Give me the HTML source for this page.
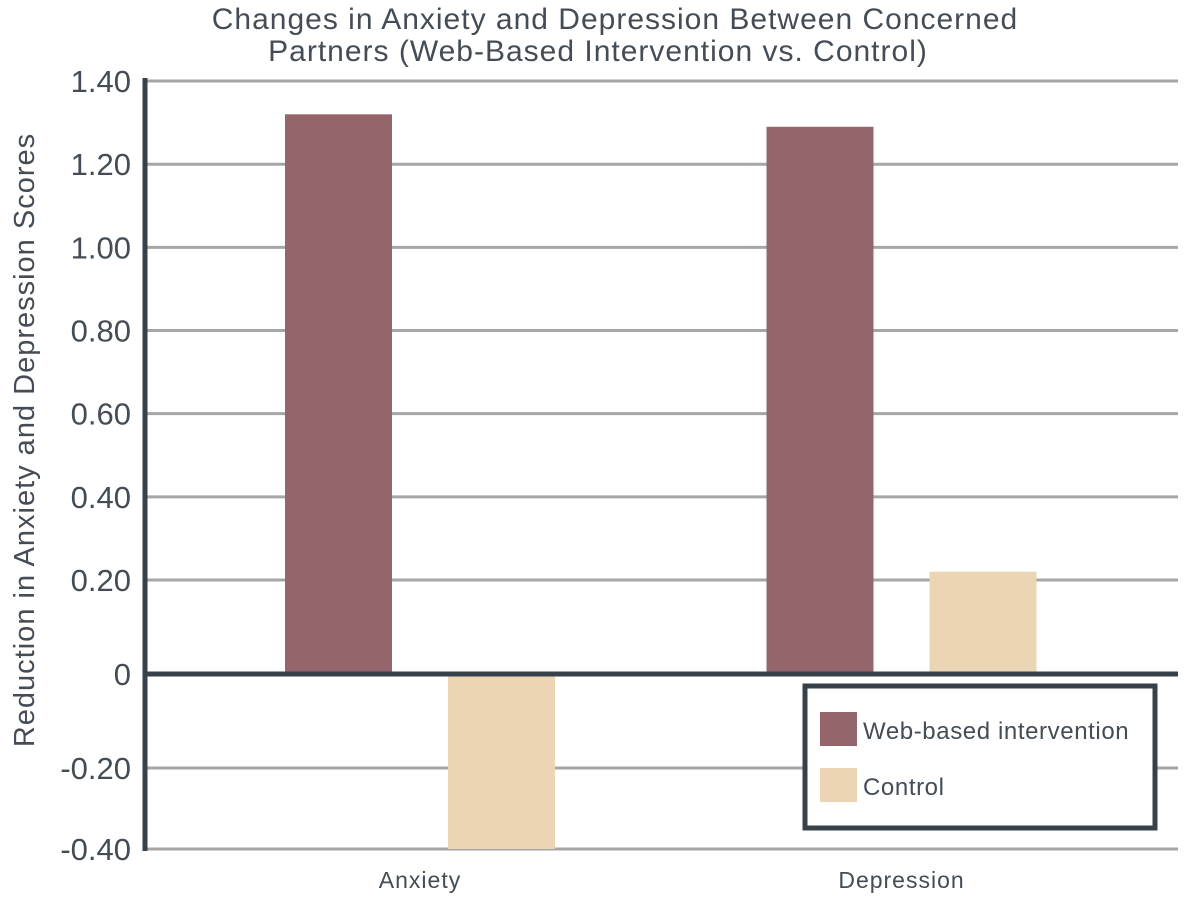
<!DOCTYPE html>
<html><head><meta charset="utf-8"><style>
html,body{margin:0;padding:0;background:#fff;}
svg{display:block;font-family:"Liberation Sans",sans-serif;}
</style></head><body>
<svg id="chart" width="1200" height="900">
<text x="615" y="29" text-anchor="middle" font-size="30" letter-spacing="1" fill="#444c55">Changes in Anxiety and Depression Between Concerned</text>
<text x="598" y="61" text-anchor="middle" font-size="30" letter-spacing="1" fill="#444c55">Partners (Web-Based Intervention vs. Control)</text>
<text transform="translate(34,440) rotate(-90)" text-anchor="middle" font-size="29" letter-spacing="1" fill="#444c55">Reduction in Anxiety and Depression Scores</text>
<g id="grid"></g><g id="bars"></g><g id="axes"></g>
<g>
<rect x="805" y="686" width="350" height="142" fill="#fff" stroke="#37414a" stroke-width="5"/>
<rect x="820" y="712" width="37" height="34" fill="#94666b"/>
<text x="863" y="739" font-size="24" letter-spacing="0.6" fill="#444c55">Web-based intervention</text>
<rect x="820" y="768" width="37" height="34" fill="#ebd5b5"/>
<text x="863" y="795" font-size="24" letter-spacing="0.6" fill="#444c55">Control</text>
</g>
</svg>
<script>
const categories = ["Anxiety", "Depression"];
const webValues = [1.32, 1.29];
const controlValues = [-0.40, 0.22];
const tickValues = [1.4, 1.2, 1.0, 0.8, 0.6, 0.4, 0.2, 0, -0.2, -0.4];
const tickLabels = ["1.40","1.20","1.00","0.80","0.60","0.40","0.20","0","-0.20","-0.40"];
const NS="http://www.w3.org/2000/svg";
function y(v){
  if(v>=0.2) return 580-(v-0.2)*415.8;
  if(v>=-0.2) return 674-v*470;
  return 768-(v+0.2)*405;
}
const left=145,right=1178;
function xc(i){return 420+481.5*i;}
function mk(tag,attrs,parent){const e=document.createElementNS(NS,tag);for(const k in attrs)e.setAttribute(k,attrs[k]);parent.appendChild(e);return e;}
const grid=document.getElementById('grid'),bars=document.getElementById('bars'),axes=document.getElementById('axes');
tickValues.forEach((v,i)=>{
  if(v!==0){const l=mk('line',{x1:left,x2:right,y1:y(v),y2:y(v),stroke:'#a6a6a6','stroke-width':3},grid);
  
  }
  const t=mk('text',{x:131,y:y(v)+11,'text-anchor':'end','font-size':31,fill:'#444c55'},axes);
  t.textContent=tickLabels[i];
  
  
});
const bw=107;
categories.forEach((c,i)=>{
  const cx=xc(i);
  const drawBar=(v,x,col,name)=>{
    const y0=y(0),y1=y(v);
    const r=mk('rect',{x:x,y:Math.min(y0,y1),width:bw,height:Math.abs(y1-y0),fill:col},bars);
    
    
  };
  drawBar(webValues[i],cx-135,'#94666b','bar-web-'+c.toLowerCase());
  drawBar(controlValues[i],cx+28,'#ebd5b5','bar-control-'+c.toLowerCase());
  const t=mk('text',{x:cx,y:888,'text-anchor':'middle','font-size':23,'letter-spacing':1,fill:'#444c55'},axes);
  t.textContent=c;
  
  
});
const za=mk('line',{x1:left,x2:right,y1:y(0),y2:y(0),stroke:'#37414a','stroke-width':5},axes);


const ya=mk('line',{x1:left,x2:left,y1:78,y2:851,stroke:'#37414a','stroke-width':5},axes);


</script>
</body></html>
